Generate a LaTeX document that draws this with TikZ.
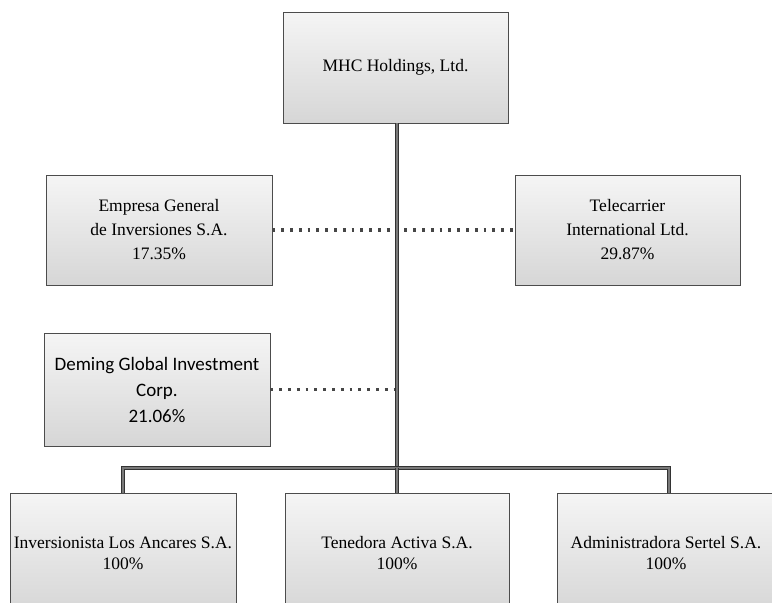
\documentclass[tikz,border=0pt]{standalone}
\usepackage{fontspec}
\setmainfont{Liberation Serif}
\newfontfamily\carlitofont{Carlito}
\begin{document}
\begin{tikzpicture}[x=1pt,y=-1pt,
  box/.style={draw=gray!60!black, line width=0.8pt, top color=gray!8, bottom color=gray!32,
    minimum width=#1, inner sep=0pt, align=center, font=\fontsize{17.5}{24}\selectfont},
  box/.default=225pt,
  trunk/.style={draw=gray!40!black, double=gray!50!black!70, double distance=2.6pt, line width=1pt},
  dots/.style={draw=gray!55!black, line width=3.2pt, dash pattern=on 2.8pt off 6pt}]
\clip (0,0) rectangle (772,603);
\useasboundingbox (0,0) rectangle (772,603);
\node[box=225pt, minimum height=111pt] (mhc) at (395.5,67.5) {MHC Holdings, Ltd.};
\node[box=226pt, minimum height=110pt] (emp) at (159,230) {Empresa General\\de Inversiones S.A.\\17.35\%};
\node[box=225pt, minimum height=110pt] (tel) at (627.5,230) {Telecarrier\\International Ltd.\\29.87\%};
\node[box=226pt, minimum height=113pt, font=\carlitofont\fontsize{19}{26}\selectfont] (dem) at (157,389.5) {Deming Global Investment\\Corp.\\21.06\%};
\node[box=226pt, minimum height=120pt, font=\fontsize{17.5}{21}\selectfont] (inv) at (123,553) {Inversionista Los Ancares S.A.\\100\%};
\node[box=224pt, minimum height=120pt, font=\fontsize{17.5}{21}\selectfont] (ten) at (397,553) {Tenedora Activa S.A.\\100\%};
\node[box=218pt, minimum height=120pt, font=\fontsize{17.5}{21}\selectfont] (adm) at (666,553) {Administradora Sertel S.A.\\100\%};
\coordinate (j) at (397,468);
\coordinate (ad) at (669,493);
\draw[dots] (emp.east) -- (tel.west);
\draw[dots] (dem.east) -- (dem.east -| j);
\draw[trunk] (mhc.south -| j) -- (j);
\draw[trunk] (inv.north) |- (j) -| (ad);
\draw[trunk] (j) -- (ten.north);
\end{tikzpicture}
\end{document}
